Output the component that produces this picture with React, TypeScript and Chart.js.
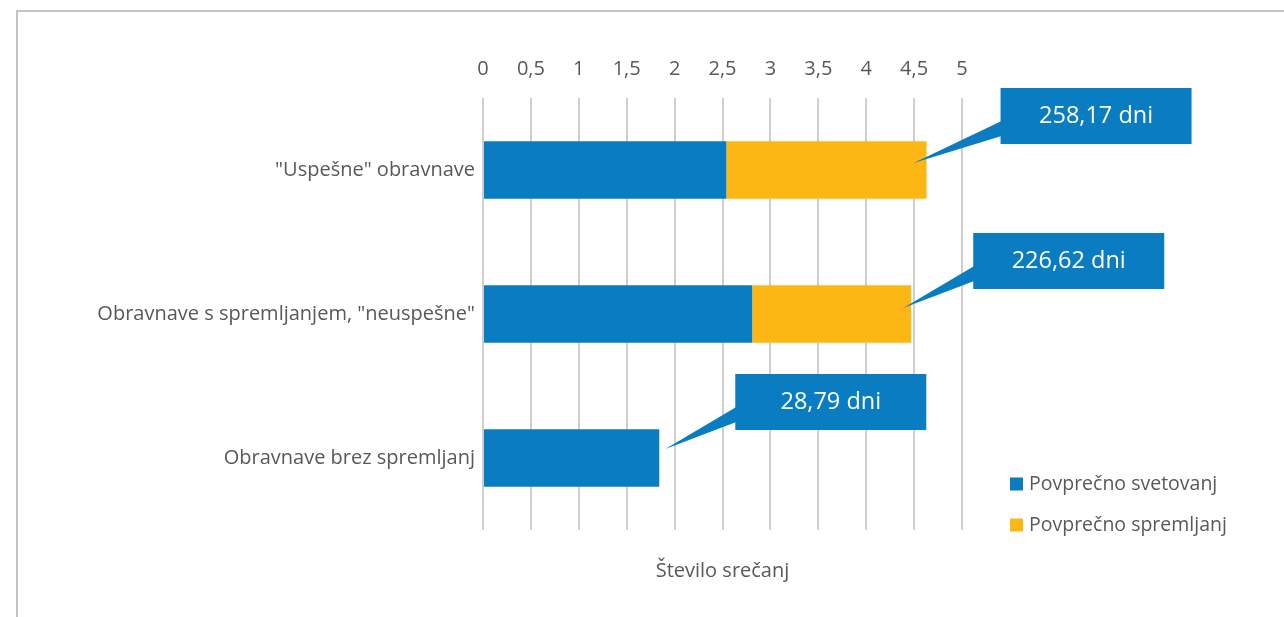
import React, { useEffect, useRef } from 'react';
import { Chart, registerables } from 'chart.js';

Chart.register(...registerables);

// ---- data ----
const categories = ['"Uspešne" obravnave', 'Obravnave s spremljanjem, "neuspešne"', 'Obravnave brez spremljanj'];
const seriesNames = ['Povprečno svetovanj', 'Povprečno spremljanj'];
const svetovanj = [2.54, 2.81, 1.84];
const spremljanj = [2.09, 1.66, 0];
const calloutLabels = ['258,17 dni', '226,62 dni', '28,79 dni'];
const xMin = 0;
const xMax = 5;
const xStep = 0.5;
const axisTitle = 'Število srečanj';

// ---- styles ----
const BLUE = '#0A7DC2';
const ORANGE = '#FDB714';
const TEXT = '#595959';
const GRID = '#cfcfcf';
const FONT = "'Open Sans', sans-serif";
// callout placement relative to the end of each stacked bar (style only)
const calloutBoxOffset = [[74, -82], [62, -81], [76, -84]];
const calloutTipOffset = [[-13, -7], [-8, -6], [6, -9]];

const decorPlugin = {
  id: 'decor',
  beforeDraw(chart: any) {
    const ctx = chart.ctx;
    ctx.save();
    ctx.strokeStyle = '#c3c3c3';
    ctx.lineWidth = 2;
    ctx.beginPath();
    ctx.moveTo(17, chart.height + 5);
    ctx.lineTo(17, 11);
    ctx.lineTo(chart.width + 5, 11);
    ctx.stroke();
    ctx.restore();
  },
  afterDatasetsDraw(chart: any) {
    const ctx = chart.ctx;
    const xs = chart.scales.x;
    const ys = chart.scales.y;
    ctx.save();
    categories.forEach((_, i) => {
      const total = svetovanj[i] + spremljanj[i];
      const ex = xs.getPixelForValue(total);
      const cy = ys.getPixelForValue(i);
      const bx = ex + calloutBoxOffset[i][0];
      const by = cy + calloutBoxOffset[i][1];
      const bw = 191;
      const bh = 56;
      ctx.fillStyle = BLUE;
      ctx.beginPath();
      ctx.moveTo(bx + 1, by + 33);
      ctx.lineTo(ex + calloutTipOffset[i][0], cy + calloutTipOffset[i][1]);
      ctx.lineTo(bx + 1, by + 48);
      ctx.closePath();
      ctx.fill();
      ctx.fillRect(bx, by, bw, bh);
      ctx.fillStyle = '#ffffff';
      ctx.font = `23.5px ${FONT}`;
      ctx.textAlign = 'center';
      ctx.textBaseline = 'middle';
      ctx.fillText(calloutLabels[i], bx + bw / 2, by + bh / 2);
    });
    ctx.restore();
  },
  afterDraw(chart: any) {
    const ctx = chart.ctx;
    const area = chart.chartArea;
    ctx.save();
    // axis title
    ctx.fillStyle = TEXT;
    ctx.font = `20px ${FONT}`;
    ctx.textAlign = 'center';
    ctx.textBaseline = 'middle';
    ctx.fillText(axisTitle, (area.left + area.right) / 2, 571);
    // legend
    const colors = [BLUE, ORANGE];
    ctx.font = `19.5px ${FONT}`;
    seriesNames.forEach((name, i) => {
      const y = 484 + i * 41;
      ctx.fillStyle = colors[i];
      ctx.fillRect(1010, y - 6.5, 13, 13);
      ctx.fillStyle = TEXT;
      ctx.textAlign = 'left';
      ctx.fillText(name, 1029, y);
    });
    ctx.restore();
  },
};

export default function App() {
  const ref = useRef<HTMLCanvasElement>(null);
  useEffect(() => {
    if (!ref.current) return;
    const chart = new Chart(ref.current, {
      type: 'bar',
      data: {
        labels: categories,
        datasets: [
          { label: seriesNames[0], data: svetovanj, backgroundColor: BLUE, categoryPercentage: 0.8, barPercentage: 0.5 },
          { label: seriesNames[1], data: spremljanj, backgroundColor: ORANGE, categoryPercentage: 0.8, barPercentage: 0.5 },
        ],
      },
      options: {
        indexAxis: 'y',
        animation: false,
        responsive: false,
        layout: { padding: { left: 0, top: 0, right: 322, bottom: 87 } },
        plugins: { legend: { display: false }, tooltip: { enabled: false }, title: { display: false } },
        scales: {
          x: {
            position: 'top',
            stacked: true,
            min: xMin,
            max: xMax,
            border: { display: false },
            grid: { color: GRID, lineWidth: 2, drawTicks: false },
            ticks: {
              stepSize: xStep,
              padding: 17,
              color: TEXT,
              font: { family: FONT, size: 20 },
              callback: (v: any) => String(v).replace('.', ','),
            },
            afterFit: (s: any) => { s.height = 98; },
          },
          y: {
            stacked: true,
            border: { display: false },
            grid: { display: false, drawTicks: false },
            ticks: { padding: 8, color: TEXT, font: { family: FONT, size: 20 } },
            afterFit: (s: any) => { s.width = 483; },
          },
        },
      },
      plugins: [decorPlugin],
    });
    return () => chart.destroy();
  }, []);
  return (
    <div style={{ position: 'fixed', left: 0, top: 0, width: 1284, height: 617, background: '#fff' }}>
      <canvas ref={ref} width={1284} height={617} />
    </div>
  );
}
